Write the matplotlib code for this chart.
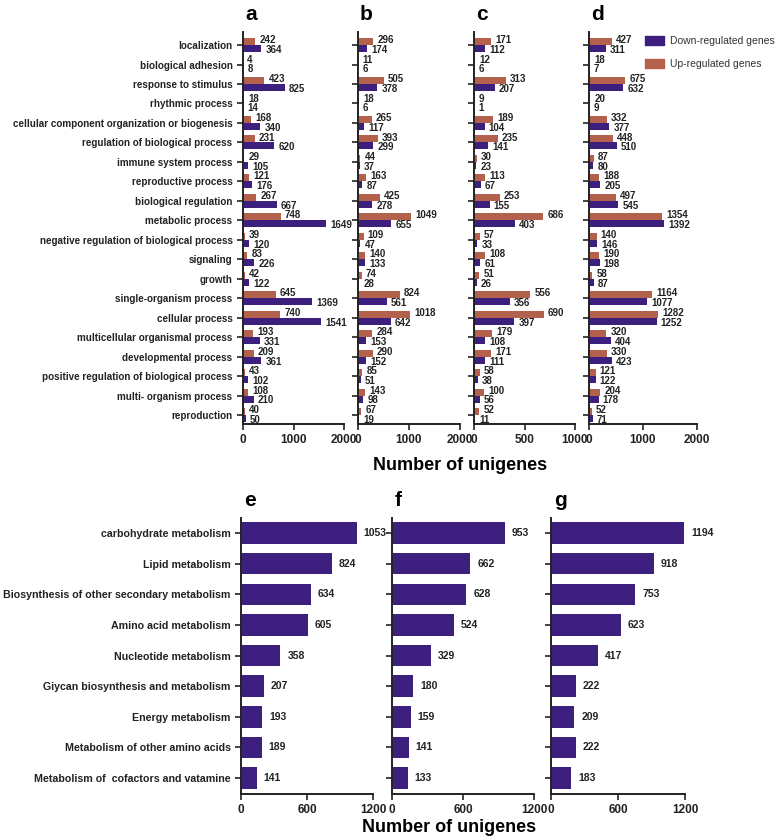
import matplotlib
matplotlib.use("Agg")
import matplotlib.pyplot as plt
import numpy as np
from matplotlib.patches import Patch

plt.rcParams['font.family'] = ['Liberation Sans', 'DejaVu Sans']

PURPLE = "#3d1f7f"
BROWN = "#b3614d"

# GO categories (top panels a-d)
go_terms = [
    "localization", "biological adhesion", "response to stimulus",
    "rhythmic process", "cellular component organization or biogenesis",
    "regulation of biological process", "immune system process",
    "reproductive process", "biological regulation", "metabolic process",
    "negative regulation of biological process", "signaling", "growth",
    "single-organism process", "cellular process",
    "multicellular organismal process", "developmental process",
    "positive regulation of biological process", "multi- organism process",
    "reproduction",
]

up_a = [242, 4, 423, 18, 168, 231, 29, 121, 267, 748, 39, 83, 42, 645, 740, 193, 209, 43, 108, 40]
down_a = [364, 8, 825, 14, 340, 620, 105, 176, 667, 1649, 120, 226, 122, 1369, 1541, 331, 361, 102, 210, 50]
up_b = [296, 11, 505, 18, 265, 393, 44, 163, 425, 1049, 109, 140, 74, 824, 1018, 284, 290, 85, 143, 67]
down_b = [174, 6, 378, 6, 117, 299, 37, 87, 278, 655, 47, 133, 28, 561, 642, 153, 152, 51, 98, 19]
up_c = [171, 12, 313, 9, 189, 235, 30, 113, 253, 686, 57, 108, 51, 556, 690, 179, 171, 58, 100, 52]
down_c = [112, 6, 207, 1, 104, 141, 23, 67, 155, 403, 33, 61, 26, 356, 397, 108, 111, 38, 56, 11]
up_d = [427, 18, 675, 20, 332, 448, 87, 188, 497, 1354, 140, 190, 58, 1164, 1282, 320, 330, 121, 204, 52]
down_d = [311, 7, 632, 9, 377, 510, 80, 205, 545, 1392, 146, 198, 87, 1077, 1252, 404, 423, 122, 178, 71]

# KEGG pathways (bottom panels e-g)
kegg_terms = [
    "carbohydrate metabolism", "Lipid metabolism",
    "Biosynthesis of other secondary metabolism", "Amino acid metabolism",
    "Nucleotide metabolism", "Giycan biosynthesis and metabolism",
    "Energy metabolism", "Metabolism of other amino acids",
    "Metabolism of  cofactors and vatamine",
]
kegg_e = [1053, 824, 634, 605, 358, 207, 193, 189, 141]
kegg_f = [953, 662, 628, 524, 329, 180, 159, 141, 133]
kegg_g = [1194, 918, 753, 623, 417, 222, 209, 222, 183]

W, H = 778, 839
fig = plt.figure(figsize=(W / 100, H / 100), dpi=100)


def px_axes(x0, x1, y0, y1):
    return fig.add_axes([x0 / W, 1 - y1 / H, (x1 - x0) / W, (y1 - y0) / H])


def style(ax):
    for s in ("top", "right"):
        ax.spines[s].set_visible(False)
    for s in ("left", "bottom"):
        ax.spines[s].set_linewidth(1.4)
        ax.spines[s].set_color("#222222")
    ax.tick_params(direction="out", length=4, width=1.2, colors="#222222")
    for lab in ax.get_xticklabels():
        lab.set_fontweight("bold")
        lab.set_fontsize(8.5)


top_panels = [
    ("a", up_a, down_a, (243, 344), 2000, [0, 1000, 2000]),
    ("b", up_b, down_b, (358, 460), 2000, [0, 1000, 2000]),
    ("c", up_c, down_c, (474, 575), 1000, [0, 500, 1000]),
    ("d", up_d, down_d, (589, 697), 2000, [0, 1000, 2000]),
]
pos = np.arange(len(go_terms))
bh = 0.36
for i, (letter, up, down, (x0, x1), xmax, ticks) in enumerate(top_panels):
    ax = px_axes(x0, x1, 32, 424)
    ax.barh(pos - bh / 2, up, height=bh, color=BROWN)
    ax.barh(pos + bh / 2, down, height=bh, color=PURPLE)
    for p, u, d in zip(pos, up, down):
        ax.annotate(str(u), (u, p - bh / 2), xytext=(3, 1), textcoords="offset points",
                    va="center", ha="left", fontsize=7, fontweight="bold", color="#222222")
        ax.annotate(str(d), (d, p + bh / 2), xytext=(3, -1), textcoords="offset points",
                    va="center", ha="left", fontsize=7, fontweight="bold", color="#222222")
    ax.set_xlim(0, xmax)
    ax.set_ylim(19.46, -0.67)
    ax.set_xticks(ticks)
    ax.set_yticks(pos)
    if i == 0:
        ax.set_yticklabels(go_terms, fontsize=7.1, fontweight="bold", color="#222222")
    else:
        ax.set_yticklabels([])
    style(ax)
    ax.text(0.02, 1.02, letter, transform=ax.transAxes, fontsize=15,
            fontweight="bold", ha="left", va="bottom")

fig.text(460 / W, 1 - 465 / H, "Number of unigenes", fontsize=13, fontweight="bold",
         ha="center", va="center")

handles = [Patch(color=PURPLE, label="Down-regulated genes"),
           Patch(color=BROWN, label="Up-regulated genes")]
fig.legend(handles=handles, loc="upper left", bbox_to_anchor=(636 / W, 1 - 27 / H),
           frameon=False, fontsize=7.5, handlelength=1.75, handleheight=0.9,
           labelspacing=1.25, handletextpad=0.65, labelcolor="#333333")

bottom_panels = [
    ("e", kegg_e, (241, 373)),
    ("f", kegg_f, (392, 534)),
    ("g", kegg_g, (551, 685)),
]
pos2 = np.arange(len(kegg_terms))
for i, (letter, vals, (x0, x1)) in enumerate(bottom_panels):
    ax = px_axes(x0, x1, 518, 794)
    ax.barh(pos2, vals, height=0.7, color=PURPLE)
    for p, v in zip(pos2, vals):
        ax.annotate(str(v), (v, p), xytext=(5, 0), textcoords="offset points",
                    va="center", ha="left", fontsize=7.5, fontweight="bold", color="#222222")
    ax.set_xlim(0, 1200)
    ax.set_ylim(8.52, -0.49)
    ax.set_xticks([0, 600, 1200])
    ax.set_yticks(pos2)
    if i == 0:
        ax.set_yticklabels(kegg_terms, fontsize=7.7, fontweight="bold", color="#222222")
    else:
        ax.set_yticklabels([])
    style(ax)
    ax.text(0.02, 1.03, letter, transform=ax.transAxes, fontsize=15,
            fontweight="bold", ha="left", va="bottom")

fig.text(449 / W, 1 - 828 / H, "Number of unigenes", fontsize=13, fontweight="bold",
         ha="center", va="center")

fig.savefig("out.png", dpi=100)
